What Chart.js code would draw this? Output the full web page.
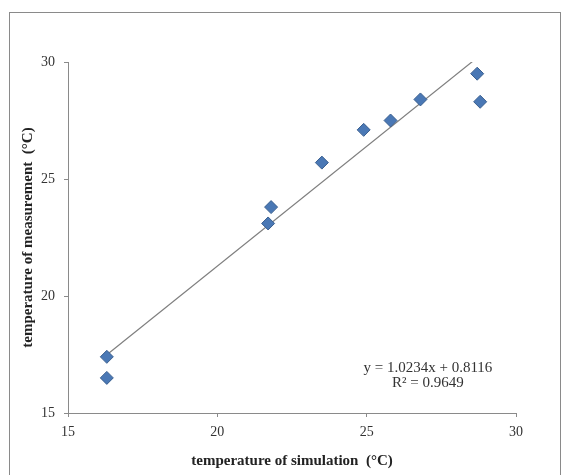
<!DOCTYPE html>
<html>
<head>
<meta charset="utf-8">
<script src="https://cdn.jsdelivr.net/npm/chart.js@4"></script>
<style>
  body { margin: 0; background: #fff; }
  #wrap { position: relative; width: 566px; height: 475px; }
  #frame { position: absolute; left: 9px; top: 12px; width: 550px; height: 470px; border: 1px solid #8a8a8a; }
  canvas { position: absolute; left: 0; top: 0; }
</style>
</head>
<body>
<div id="wrap">
  <div id="frame"></div>
  <canvas id="temp-chart" width="566" height="475"></canvas>
</div>
<script>
const simTemps = [16.3, 16.3, 21.7, 21.8, 23.5, 24.9, 25.8, 26.8, 28.7, 28.8];
const measTemps = [17.4, 16.5, 23.1, 23.8, 25.7, 27.1, 27.5, 28.4, 29.5, 28.3];
const axisTicks = [15, 20, 25, 30];
const trendSlope = 1.0234;
const trendIntercept = 0.8116;
const rSquared = 0.9649;

const points = simTemps.map((x, i) => ({ x: x, y: measTemps[i] }));
const xMin = Math.min(...simTemps);
const xMax = Math.max(...simTemps);
const trendPoints = [xMin, xMax].map((x) => ({ x: x, y: trendSlope * x + trendIntercept }));

const serif = "'Liberation Serif', 'Times New Roman', serif";

// equation label in the lower right, like Excel's trendline label
const equationLabel = {
  id: "equationLabel",
  afterDraw(chart) {
    const ctx = chart.ctx;
    const x = chart.scales.x.getPixelForValue(27.05);
    const y = chart.scales.y.getPixelForValue(16.92);
    ctx.save();
    ctx.font = "15px " + serif;
    ctx.fillStyle = "#333";
    ctx.textAlign = "center";
    ctx.textBaseline = "middle";
    ctx.fillText("y = " + trendSlope + "x + " + trendIntercept, x, y);
    ctx.fillText("R\u00b2 = " + rSquared, x, y + 15);
    ctx.restore();
  },
};

const ctx = document.getElementById("temp-chart").getContext("2d");

new Chart(ctx, {
  type: "scatter",
  data: {
    datasets: [
      {
        label: "measured",
        data: points,
        pointStyle: "rectRot",
        radius: 6.5,
        backgroundColor: "#4a78b5",
        borderColor: "#3a5f8f",
        borderWidth: 1,
        order: 1,
      },
      {
        label: "trend",
        type: "line",
        data: trendPoints,
        borderColor: "#7f7f7f",
        borderWidth: 1.2,
        pointRadius: 0,
        fill: false,
        order: 2,
      },
    ],
  },
  options: {
    responsive: false,
    animation: false,
    layout: { padding: { left: 0, top: 62, right: 50, bottom: 0 } },
    plugins: {
      legend: { display: false },
      tooltip: { enabled: false },
    },
    scales: {
      x: {
        type: "linear",
        min: 15,
        max: 30,
        afterBuildTicks: (scale) => { scale.ticks = axisTicks.map((v) => ({ value: v })); },
        afterFit: (scale) => { scale.height = 62; },
        grid: { drawOnChartArea: false, tickLength: 4, color: "#8a8a8a" },
        border: { color: "#8a8a8a" },
        ticks: { padding: 7, color: "#333", font: { family: serif, size: 14 } },
        title: {
          display: true,
          text: "temperature of simulation  (\u00b0C)",
          color: "#222",
          padding: { top: 0, bottom: 5 },
          font: { family: serif, size: 15, weight: "bold" },
        },
      },
      y: {
        type: "linear",
        min: 15,
        max: 30,
        afterBuildTicks: (scale) => { scale.ticks = axisTicks.map((v) => ({ value: v })); },
        afterFit: (scale) => { scale.width = 68; },
        grid: { drawOnChartArea: false, tickLength: 4, color: "#8a8a8a" },
        border: { color: "#8a8a8a" },
        ticks: { padding: 9, color: "#333", font: { family: serif, size: 14 } },
        title: {
          display: true,
          text: "temperature of measurement  (\u00b0C)",
          color: "#222",
          padding: { top: 19, bottom: 0 },
          font: { family: serif, size: 15, weight: "bold" },
        },
      },
    },
  },
  plugins: [equationLabel],
});
</script>
</body>
</html>
